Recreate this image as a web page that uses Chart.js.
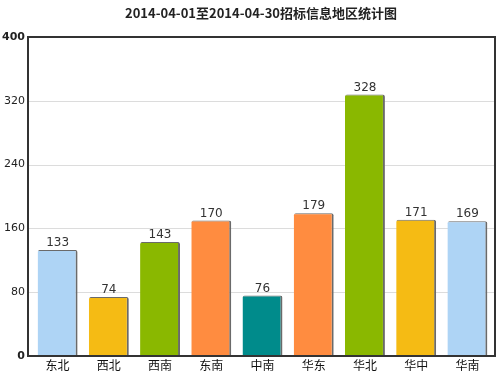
<!DOCTYPE html>
<html><head><meta charset="utf-8">
<script src="https://cdn.jsdelivr.net/npm/chart.js"></script>
<style>html,body{margin:0;padding:0;background:#fff}#wrap{width:500px;height:375px}</style>
</head><body>
<div id="wrap"><canvas id="c" width="500" height="375"></canvas></div>
<script>
const titleText = "2014-04-01至2014-04-30招标信息地区统计图";
const regions = ["东北","西北","西南","东南","中南","华东","华北","华中","华南"];
const counts = [133,74,143,170,76,179,328,171,169];
const barColors = ["#aed4f5","#f5bb14","#8ab800","#ff8c40","#008b8b","#ff8c40","#8ab800","#f5bb14","#aed4f5"];
const yTicks = [0,80,160,240,320,400];

const fontCJK = "'Noto Sans CJK SC','DejaVu Sans',sans-serif";
const frameL = 28, frameR = 495;

// grid lines across the whole frame (the bars sit a bit inside it)
const gridLines = {
  id:"gridLines",
  beforeDatasetsDraw(chart){
    const {ctx} = chart, y = chart.scales.y;
    ctx.save();
    ctx.strokeStyle = "#dcdcdc"; ctx.lineWidth = 1;
    yTicks.forEach(v=>{
      const py = Math.round(y.getPixelForValue(v)) + 0.5;
      ctx.beginPath(); ctx.moveTo(frameL, py); ctx.lineTo(frameR, py); ctx.stroke();
    });
    ctx.restore();
  }
};

// title, frame and value labels
const decorate = {
  id:"decorate",
  afterDatasetsDraw(chart){
    const {ctx, chartArea:a} = chart;
    ctx.save();
    ctx.fillStyle = "#222";
    ctx.font = "bold 13px " + fontCJK;
    ctx.textAlign = "center"; ctx.textBaseline = "middle";
    ctx.fillText(titleText, 261, 13);
    ctx.strokeStyle = "#333"; ctx.lineWidth = 2;
    ctx.strokeRect(frameL, a.top, frameR - frameL, a.bottom - a.top);
    ctx.font = "12px 'DejaVu Sans',sans-serif";
    ctx.fillStyle = "#333"; ctx.textBaseline = "bottom";
    chart.getDatasetMeta(0).data.forEach((bar,i)=>{
      ctx.fillText(String(counts[i]), bar.x, bar.y - 1);
    });
    ctx.restore();
  }
};

new Chart(document.getElementById("c"), {
  type:"bar",
  data:{labels:regions, datasets:[{data:counts, backgroundColor:barColors,
    borderColor:"#6a6a6a", borderWidth:{top:1,right:2,left:0,bottom:0}, borderSkipped:false,
    borderRadius:{topLeft:2,topRight:2}, categoryPercentage:1, barPercentage:0.78}]},
  options:{
    responsive:false, animation:false,
    layout:{padding:{top:37,right:7,left:0,bottom:0}},
    plugins:{legend:{display:false}, tooltip:{enabled:false}, title:{display:false}},
    scales:{
      x:{grid:{display:false, drawTicks:false}, border:{display:false},
        ticks:{color:"#111", font:{size:12, family:fontCJK}, padding:2},
        afterFit(s){ s.height = 19; }},
      y:{min:0, max:400, afterBuildTicks(s){ s.ticks = yTicks.map(v=>({value:v})); },
        grid:{display:false, drawTicks:false}, border:{display:false},
        ticks:{color:"#222", padding:7, font:(c)=>({size:11, family:"'DejaVu Sans',sans-serif",
          weight:(c.tick && (c.tick.value===0 || c.tick.value===400)) ? "bold" : "normal"})},
        afterFit(s){ s.width = 32; }}
    }
  },
  plugins:[gridLines, decorate]
});
</script>
</body></html>
